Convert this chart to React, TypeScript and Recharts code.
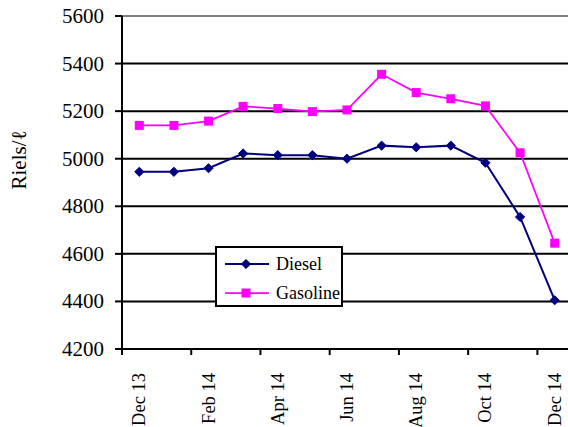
import React from 'react';
import { LineChart, Line, XAxis, YAxis, CartesianGrid, Legend, ReferenceLine } from 'recharts';

const months = [
  'Dec 13', 'Jan 14', 'Feb 14', 'Mar 14', 'Apr 14', 'May 14', 'Jun 14',
  'Jul 14', 'Aug 14', 'Sep 14', 'Oct 14', 'Nov 14', 'Dec 14',
];
const diesel = [4945, 4945, 4960, 5022, 5015, 5015, 5000, 5055, 5048, 5055, 4983, 4755, 4405];
const gasoline = [5140, 5140, 5158, 5220, 5211, 5198, 5205, 5355, 5278, 5252, 5222, 5025, 4645];
const yTicks = [4200, 4400, 4600, 4800, 5000, 5200, 5400, 5600];

const data = months.map((m, i) => ({ month: m, Diesel: diesel[i], Gasoline: gasoline[i] }));

const FONT = '"Liberation Serif", "DejaVu Serif", serif';
const W = 580;
const H = 427;
const LEFT = 122;
const RIGHT = 8;
const BAND = (W - LEFT - RIGHT) / months.length;

const DieselDot = (props: any) => {
  const { cx, cy } = props;
  if (cx == null || cy == null) return null;
  const r = 4.6;
  return (
    <polygon
      points={`${cx},${cy - r} ${cx + r},${cy} ${cx},${cy + r} ${cx - r},${cy}`}
      fill="#000080"
      stroke="#000080"
    />
  );
};

const GasDot = (props: any) => {
  const { cx, cy } = props;
  if (cx == null || cy == null) return null;
  return <rect x={cx - 4.5} y={cy - 4.5} width={9} height={9} fill="#FF00FF" />;
};

const ValueTick = (props: any) => {
  const { x, y, payload } = props;
  return (
    <text
      x={x}
      y={y}
      textAnchor="end"
      dominantBaseline="central"
      style={{ fontFamily: FONT, fontSize: 21 }}
      fill="#000"
    >
      {payload.value}
    </text>
  );
};

const MonthTick = (props: any) => {
  const { x, y, payload, index } = props;
  if (index % 2 !== 0) return null;
  const tx = x - BAND / 2;
  return (
    <g>
      <line x1={tx} y1={y} x2={tx} y2={y + 6} stroke="#000" strokeWidth={2} />
      <text
        x={x}
        y={373}
        transform={`rotate(-90, ${x}, 373)`}
        textAnchor="end"
        dominantBaseline="central"
        style={{ fontFamily: FONT, fontSize: 18.5 }}
        fill="#000"
      >
        {payload.value}
      </text>
    </g>
  );
};

const LegendBox = () => (
  <svg width={128} height={61}>
    <rect x={1} y={1} width={126} height={59} fill="#fff" stroke="#000" strokeWidth={2} />
    <line x1={10} y1={18} x2={54} y2={18} stroke="#000080" strokeWidth={2} />
    <DieselDot cx={31} cy={18} />
    <text x={61} y={18} dominantBaseline="central" style={{ fontFamily: FONT, fontSize: 18 }} fill="#000">
      Diesel
    </text>
    <line x1={10} y1={47} x2={54} y2={47} stroke="#FF00FF" strokeWidth={1.75} />
    <GasDot cx={31} cy={47} />
    <text x={61} y={47} dominantBaseline="central" style={{ fontFamily: FONT, fontSize: 18 }} fill="#000">
      Gasoline
    </text>
  </svg>
);

export default function App() {
  return (
    <div
      style={{
        position: 'absolute',
        left: 0,
        top: 0,
        width: 568,
        height: 427,
        overflow: 'hidden',
        background: '#fff',
      }}
    >
      <LineChart width={W} height={H} data={data} margin={{ top: 16, right: RIGHT, bottom: 0, left: 0 }}>
        <CartesianGrid vertical={false} stroke="#000" strokeWidth={2} />
        <ReferenceLine y={5600} stroke="#808080" strokeWidth={2} />
        <XAxis
          dataKey="month"
          interval={0}
          height={78}
          padding={{ left: BAND / 2, right: BAND / 2 }}
          axisLine={{ stroke: '#000', strokeWidth: 2 }}
          tickLine={false}
          tickSize={0}
          tickMargin={0}
          tick={<MonthTick />}
        />
        <YAxis
          width={LEFT}
          domain={[4200, 5600]}
          ticks={yTicks}
          interval={0}
          axisLine={{ stroke: '#000', strokeWidth: 2 }}
          tickLine={{ stroke: '#000', strokeWidth: 2 }}
          tickSize={7}
          tickMargin={11}
          tick={<ValueTick />}
          label={{
            content: () => (
              <text
                x={19}
                y={160}
                transform="rotate(-90, 19, 160)"
                textAnchor="middle"
                dominantBaseline="central"
                style={{ fontFamily: FONT, fontSize: 21 }}
                fill="#000"
              >
                Riels/ℓ
              </text>
            ),
          }}
        />
        <Legend
          layout="vertical"
          align="center"
          verticalAlign="middle"
          wrapperStyle={{ left: 215, top: 246, width: 128, height: 61 }}
          content={() => <LegendBox />}
        />
        <Line
          type="linear"
          dataKey="Diesel"
          stroke="#000080"
          strokeWidth={2}
          dot={<DieselDot />}
          activeDot={false}
          isAnimationActive={false}
        />
        <Line
          type="linear"
          dataKey="Gasoline"
          stroke="#FF00FF"
          strokeWidth={1.75}
          dot={<GasDot />}
          activeDot={false}
          isAnimationActive={false}
        />
      </LineChart>
    </div>
  );
}
